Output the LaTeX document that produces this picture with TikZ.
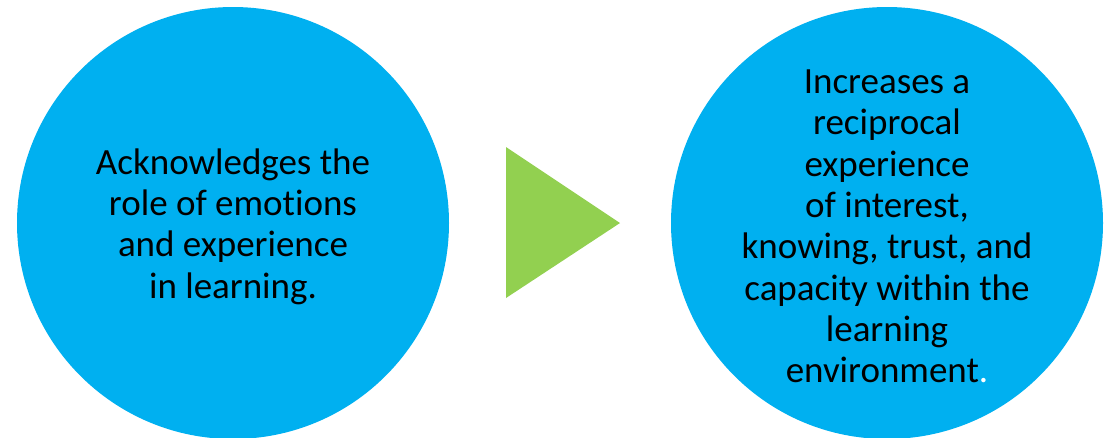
\documentclass[tikz,border=0pt]{standalone}
\usepackage{fontspec}
\setmainfont{Carlito}[Ligatures={NoCommon,NoRequired},Contextuals=NoAlternate]
\definecolor{circblue}{HTML}{00B0F0}
\definecolor{arrgreen}{HTML}{92D050}
\begin{document}
\begin{tikzpicture}[x=1pt,y=-1pt,
  bubble/.style={circle, fill=circblue, draw=none, minimum size=432pt, inner sep=0pt},
  bubbletext/.style={align=center, inner sep=0pt, font=\fontsize{37}{41.3}\selectfont, text=black}]
\useasboundingbox (0,0) rectangle (1116,437);
\fill[white] (0,0) rectangle (1116,437);
\node[bubble] (left) at (233,223) {};
\node[bubble] (right) at (887,223) {};
\node[bubbletext] (lefttext) at ([yshift=-3.5pt]left.center) {Acknowledges the\\role of emotions\\and experience\\in learning.};
\node[bubbletext] (righttext) at ([yshift=-3.5pt]right.center) {Increases a\\reciprocal\\experience\\of interest,\\knowing, trust, and\\capacity within the\\learning\\environment{\color{white}.}};
\coordinate (tl) at (506,147);
\coordinate (tb) at (506,298);
\coordinate (tt) at (620,223);
\fill[arrgreen] (tl) -- (tt) -- (tb) -- cycle;
\end{tikzpicture}
\end{document}
